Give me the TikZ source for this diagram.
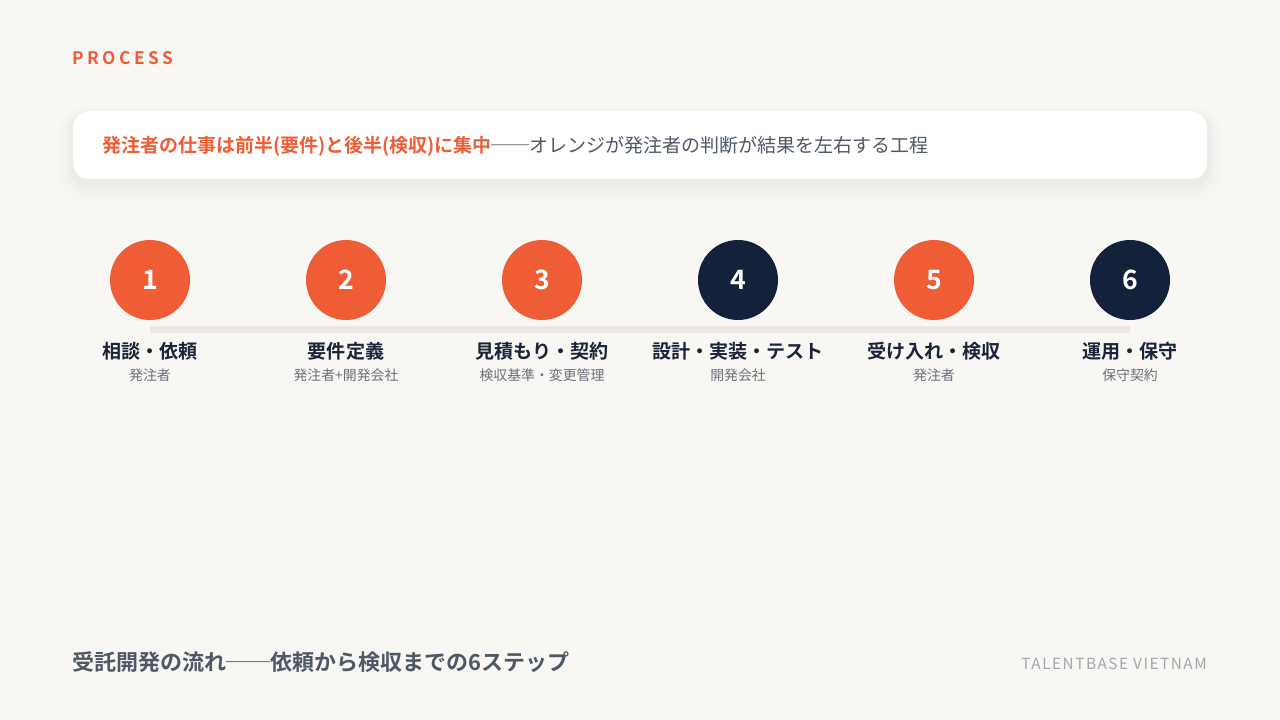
\documentclass[tikz,border=0pt]{standalone}
\usepackage{fontspec}
\setmainfont{Noto Sans CJK JP}[BoldFont={Noto Sans CJK JP Bold}]
\newfontfamily\spacedfont{Noto Sans CJK JP}[LetterSpace=20,BoldFont={Noto Sans CJK JP Bold}]
\newfontfamily\brandfont{Noto Sans CJK JP}[LetterSpace=10]
\usetikzlibrary{positioning}
\definecolor{bgc}{HTML}{F9F7F3}
\definecolor{orng}{HTML}{EE5D36}
\definecolor{navy}{HTML}{13223A}
\definecolor{ink}{HTML}{1A2438}
\definecolor{gry}{HTML}{6B7079}
\definecolor{slate}{HTML}{4E5866}
\definecolor{trk}{HTML}{ECE8E1}
\definecolor{brand}{HTML}{A3A6AD}
\tikzstyle{orstep}=[circle, fill=orng, minimum size=60pt, inner sep=0pt, text=white, font=\bfseries\fontsize{20}{24}\selectfont]
\tikzstyle{nvstep}=[orstep, fill=navy]
\tikzstyle{ttl}=[font=\bfseries\fontsize{14.3}{17}\selectfont, text=ink, inner sep=0pt]
\tikzstyle{sub}=[font=\fontsize{10.4}{12}\selectfont, text=gry, inner sep=0pt]
\tikzstyle{track}=[draw=trk, line width=5.25pt]
\tikzstyle{card}=[rectangle, rounded corners=12pt, fill=white, draw=black!4, minimum width=850.5pt, minimum height=51pt]
\newcommand{\hl}[1]{\textcolor{orng}{\bfseries #1}}

\begin{document}
\begin{tikzpicture}[x=0.75pt, y=-0.75pt]
\fill[bgc] (0,0) rectangle (1280,720);
\useasboundingbox (0,0) rectangle (1280,720);

\node[anchor=west, inner sep=0pt, text=orng, font=\spacedfont\bfseries\fontsize{13}{15}\selectfont] (hdr) at (72,58) {PROCESS};

% card with soft shadow
\fill[black, opacity=0.012, rounded corners=18pt] (60,108) rectangle (1220,200);
\fill[black, opacity=0.015, rounded corners=16pt] (66,110) rectangle (1214,194);
\fill[black, opacity=0.018, rounded corners=14pt] (70,112) rectangle (1210,188);
\node[card] (card) at (640,145) {};
\node[anchor=west, inner sep=0pt, font=\fontsize{14.25}{17}\selectfont, text=slate] (msg) at (102,146)
  {\hl{発注者の仕事は前半(要件)と後半(検収)に集中}──オレンジが発注者の判断が結果を左右する工程};

\coordinate (tl) at (150,329);
\coordinate (tr) at (1130,329);
\draw[track] (tl) -- (tr);

\node[orstep] (s1) at (150,280) {1};
\node[orstep] (s2) at (346,280) {2};
\node[orstep] (s3) at (542,280) {3};
\node[nvstep] (s4) at (738,280) {4};
\node[orstep] (s5) at (934,280) {5};
\node[nvstep] (s6) at (1130,280) {6};

\node[ttl] (t1) at (150,351) {相談・依頼};
\node[ttl] (t2) at (346,351) {要件定義};
\node[ttl] (t3) at (542,351) {見積もり・契約};
\node[ttl] (t4) at (738,351) {設計・実装・テスト};
\node[ttl] (t5) at (934,351) {受け入れ・検収};
\node[ttl] (t6) at (1130,351) {運用・保守};

\node[sub] (d1) at (150,375) {発注者};
\node[sub] (d2) at (346,375) {発注者+開発会社};
\node[sub] (d3) at (542,375) {検収基準・変更管理};
\node[sub] (d4) at (738,375) {開発会社};
\node[sub] (d5) at (934,375) {発注者};
\node[sub] (d6) at (1130,375) {保守契約};

\node[anchor=west, inner sep=0pt, text=slate, font=\bfseries\fontsize{16.5}{19}\selectfont] (foot) at (72,662) {受託開発の流れ──依頼から検収までの6ステップ};
\node[anchor=east, inner sep=0pt, text=brand, font=\brandfont\fontsize{11.5}{13}\selectfont] (brnd) at (1207,664) {TALENTBASE VIETNAM};
\end{tikzpicture}
\end{document}
